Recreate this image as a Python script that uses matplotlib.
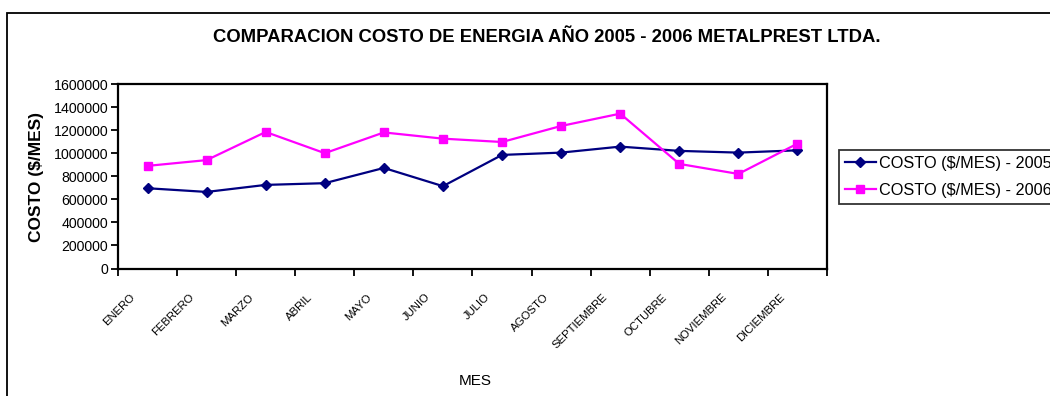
import matplotlib
matplotlib.use("Agg")
import matplotlib.pyplot as plt
from matplotlib.patches import Rectangle
from matplotlib.transforms import ScaledTranslation
import numpy as np

plt.rcParams['font.family'] = ['Liberation Sans', 'DejaVu Sans']

meses = ["ENERO", "FEBRERO", "MARZO", "ABRIL", "MAYO", "JUNIO", "JULIO",
         "AGOSTO", "SEPTIEMBRE", "OCTUBRE", "NOVIEMBRE", "DICIEMBRE"]
costo_2005 = [696000, 664000, 725000, 740000, 872000, 714000, 985000,
              1005000, 1057000, 1020000, 1005000, 1025000]
costo_2006 = [890000, 940000, 1184000, 1000000, 1180000, 1126000, 1097000,
              1236000, 1343000, 907000, 820000, 1083000]
y_ticks = [0, 200000, 400000, 600000, 800000, 1000000, 1200000, 1400000, 1600000]

W, H = 1050, 396
fig = plt.figure(figsize=(W / 100, H / 100), dpi=100)
fig.patch.set_facecolor("white")

# outer chart frame (runs past the right and bottom edges)
fig.patches.append(Rectangle((7 / W, -0.2), 1.2, 1.2 - 13 / H,
                             transform=fig.transFigure, fill=False,
                             edgecolor="black", linewidth=1.3, clip_on=False))

ax = fig.add_axes([118 / W, 1 - 268.5 / H, (827 - 118) / W, (268.5 - 84) / H])
x = np.arange(len(meses))

l1, = ax.plot(x, costo_2005, color="#000080", marker="D", markersize=5.5,
              linewidth=1.6, label="COSTO ($/MES) - 2005")
l2, = ax.plot(x, costo_2006, color="#FF00FF", marker="s", markersize=6,
              linewidth=1.6, label="COSTO ($/MES) - 2006")

ax.set_xlim(-0.5, len(meses) - 0.5)
ax.set_ylim(0, 1600000)
ax.set_yticks(y_ticks)
ax.set_yticklabels([str(v) for v in y_ticks], fontsize=10.2)

# tick marks at category boundaries
ax.set_xticks(np.arange(-0.5, len(meses), 1.0))
ax.set_xticklabels([])
ax.tick_params(axis="x", direction="out", length=5, width=1.3)
ax.tick_params(axis="y", direction="out", length=5, width=1.3, pad=2)

# slanted month names, ending just left of and below each category centre
label_tr = ax.get_xaxis_transform() + ScaledTranslation(-14 / 100, -27 / 100,
                                                         fig.dpi_scale_trans)
for xi, mes in zip(x, meses):
    ax.text(xi, 0, mes, transform=label_tr, rotation=45, ha="right",
            va="center", rotation_mode="anchor", fontsize=8.2, clip_on=False)

for s in ax.spines.values():
    s.set_linewidth(1.6)
    s.set_color("black")

fig.text(36 / W, 1 - 177 / H, "COSTO ($/MES)", rotation=90, ha="center",
         va="center", fontsize=12.5, fontweight="bold")
fig.text(475 / W, 1 - 381 / H, "MES", ha="center", va="center", fontsize=11)

fig.text(547 / W, 1 - 37 / H,
         "COMPARACION COSTO DE ENERGIA AÑO 2005 - 2006 METALPREST LTDA.",
         ha="center", va="center", fontsize=13.3, fontweight="bold")

leg = fig.legend(handles=[l1, l2], loc="upper left",
                 bbox_to_anchor=(839 / W, 1 - 150 / H), fontsize=11.7,
                 frameon=True, fancybox=False, borderpad=0.35,
                 handlelength=1.9, handletextpad=0.2, labelspacing=0.75,
                 borderaxespad=0)
leg.get_frame().set_edgecolor("black")
leg.get_frame().set_linewidth(1.3)

fig.savefig("out.png", dpi=100)
